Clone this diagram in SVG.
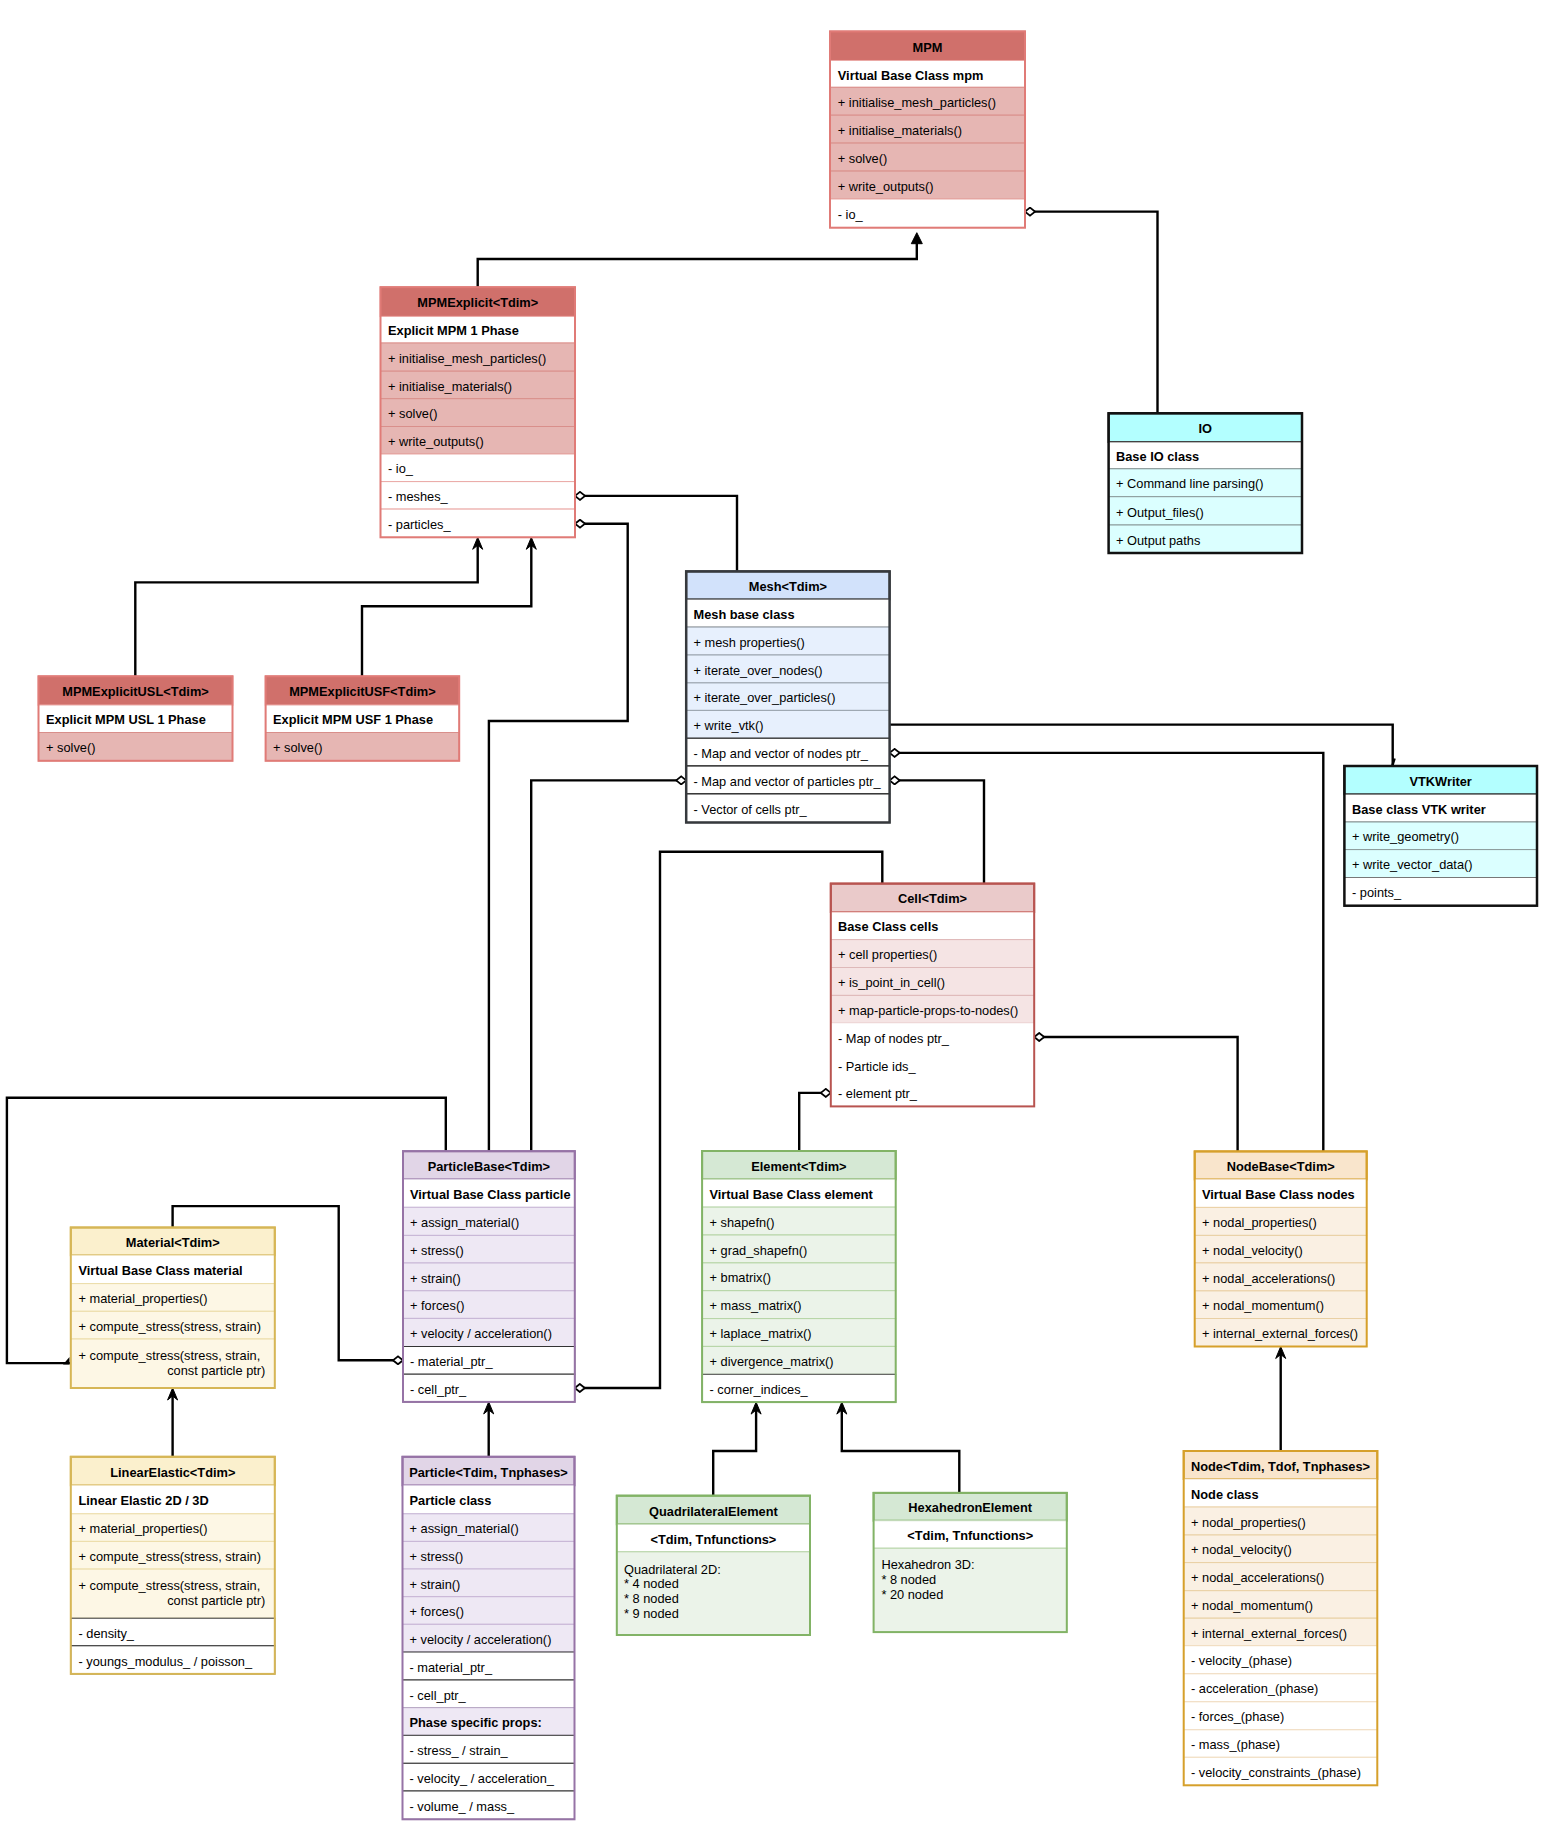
<svg xmlns="http://www.w3.org/2000/svg" width="1566" height="1832" viewBox="0 0 1566 1832">
<style>
.t{font-family:"Liberation Sans",Arial,Helvetica,sans-serif;font-size:12.8px;fill:#000;transform:translate(0px,1.2px)}
.b{font-weight:bold}
.m{text-anchor:middle}
.ln{fill:none;stroke:#000;stroke-width:2.4}
.rh{fill:#d0706b;stroke:#d9716c;stroke-width:1.5}
.rr{fill:#e6b6b3;stroke:#d98f8b;stroke-width:1}
.rw{fill:#fff;stroke:#eaa9a6;stroke-width:1}
.ro{fill:none;stroke:#e07b77;stroke-width:2}
.ch{fill:#b3ffff;stroke:#111;stroke-width:2}
.cr{fill:#dbffff;stroke:#8a9a9a;stroke-width:1}
.cw{fill:#fff;stroke:#777;stroke-width:1}
.co{fill:none;stroke:#111;stroke-width:2.5}
.bh{fill:#d2e2fb;stroke:#36393d;stroke-width:2}
.br{fill:#e7f0fd;stroke:#9aa3ad;stroke-width:1}
.bw{fill:#fff;stroke:#222;stroke-width:1.2}
.bo{fill:none;stroke:#36393d;stroke-width:2.5}
.ph{fill:#eacaca;stroke:#b85450;stroke-width:2}
.pr{fill:#f5e4e4;stroke:#deb9b9;stroke-width:1}
.pw{fill:#fff;stroke:none}
.po{fill:none;stroke:#b85450;stroke-width:2}
.uh{fill:#e1d5e7;stroke:#9673a6;stroke-width:2}
.ur{fill:#eee8f4;stroke:#c7b5d5;stroke-width:1}
.uw{fill:#fff;stroke:#333;stroke-width:1}
.uo{fill:none;stroke:#9673a6;stroke-width:2}
.gh{fill:#d5e8d4;stroke:#82b366;stroke-width:2}
.gr{fill:#ebf3e9;stroke:#b5d4a5;stroke-width:1}
.gw{fill:#fff;stroke:#444;stroke-width:1}
.go{fill:none;stroke:#82b366;stroke-width:2}
.yh{fill:#fbf0cd;stroke:#d6b656;stroke-width:2}
.yr{fill:#fdf7e5;stroke:#ecdca8;stroke-width:1}
.yw{fill:#fff;stroke:#333;stroke-width:1}
.yo{fill:none;stroke:#d6b656;stroke-width:2}
.oh{fill:#f9e5cc;stroke:#d6a02b;stroke-width:2}
.or{fill:#faf0e3;stroke:#e9d0a4;stroke-width:1}
.ow{fill:#fff;stroke:#f0dcc0;stroke-width:1}
.oo{fill:none;stroke:#d6a02b;stroke-width:2}
</style>
<defs>
<marker id="dia" viewBox="0 0 12 10" refX="1" refY="5" markerWidth="12" markerHeight="10" markerUnits="userSpaceOnUse" orient="auto"><path d="M1,5 L6,1 L11,5 L6,9 Z" fill="#fff" stroke="#000" stroke-width="1.8"/></marker>
<marker id="arr" viewBox="0 0 14 12" refX="9" refY="6" markerWidth="14" markerHeight="12" markerUnits="userSpaceOnUse" orient="auto"><path d="M1,1 L13,6 L1,11 L5,6 Z" fill="#000" stroke="#000" stroke-width="1"/></marker>
<marker id="blk" viewBox="0 0 13 13" refX="8" refY="6.5" markerWidth="13" markerHeight="13" markerUnits="userSpaceOnUse" orient="auto"><path d="M1,1 L12,6.5 L1,12 Z" fill="#000" stroke="#000" stroke-width="1"/></marker>
</defs>
<rect x="0" y="0" width="1566" height="1832" fill="#fff"/>

<g id="connectors">
<path class="ln" d="M477.7,287.2 V259 H916.8 V236.7" marker-end="url(#blk)"/>
<path class="ln" d="M1025,211.6 H1157.5 V413.3" marker-start="url(#dia)"/>
<path class="ln" d="M135.3,676.3 V582.4 H477.7 V541.3" marker-end="url(#arr)"/>
<path class="ln" d="M362,676.3 V606.3 H531.3 V541.3" marker-end="url(#arr)"/>
<path class="ln" d="M575,495.9 H737 V571.4" marker-start="url(#dia)"/>
<path class="ln" d="M575,523.7 H627.7 V721 H488.9 V1151.2" marker-start="url(#dia)"/>
<path class="ln" d="M686.2,780.4 H531.2 V1151.2" marker-start="url(#dia)"/>
<path class="ln" d="M889.6,724.6 H1392.7 V766"/>
<path class="ln" d="M1394.6,758.5 L1392.4,765.5" stroke-width="2"/>
<path class="ln" d="M889.6,752.9 H1323.3 V1151.4" marker-start="url(#dia)"/>
<path class="ln" d="M889.6,780.4 H984 V883.6" marker-start="url(#dia)"/>
<path class="ln" d="M574.8,1388 H660 V851.8 H882.3 V883.6" marker-start="url(#dia)"/>
<path class="ln" d="M1034.2,1037 H1237.6 V1151.4" marker-start="url(#dia)"/>
<path class="ln" d="M830.8,1092.9 H799.2 V1151" marker-start="url(#dia)"/>
<path class="ln" d="M403,1360.3 H338.7 V1206.1 H172.6 V1227.5" marker-start="url(#dia)"/>
<path class="ln" d="M445.8,1151.2 V1097.8 H6.9 V1363.1 H70.8"/>
<polygon points="63,1364.5 69.5,1364.5 69.5,1357" fill="#000"/>
<path class="ln" d="M172.6,1456.8 V1392" marker-end="url(#arr)"/>
<path class="ln" d="M488.7,1456.8 V1405.9" marker-end="url(#arr)"/>
<path class="ln" d="M713.2,1495.7 V1451 H756.1 V1406.1" marker-end="url(#arr)"/>
<path class="ln" d="M959.3,1492.9 V1451 H841.8 V1406.1" marker-end="url(#arr)"/>
<path class="ln" d="M1280.7,1451 V1350.5" marker-end="url(#arr)"/>
</g>

<g id="mpm">
<rect class="rh" x="830" y="31.4" width="195" height="29.1"/>
<rect class="rw" x="830" y="60.5" width="195" height="26.8"/>
<rect class="rr" x="830" y="87.3" width="195" height="27.9"/>
<rect class="rr" x="830" y="115.2" width="195" height="27.9"/>
<rect class="rr" x="830" y="143.1" width="195" height="28"/>
<rect class="rr" x="830" y="171.1" width="195" height="27.9"/>
<rect class="rw" x="830" y="199" width="195" height="28.7"/>
<rect class="ro" x="830" y="31.4" width="195" height="196.3"/>
<text class="t b m" x="927.5" y="50.5">MPM</text>
<text class="t b" x="837.8" y="78.4">Virtual Base Class mpm</text>
<text class="t" x="837.8" y="105.8">+ initialise_mesh_particles()</text>
<text class="t" x="837.8" y="133.7">+ initialise_materials()</text>
<text class="t" x="837.8" y="161.6">+ solve()</text>
<text class="t" x="837.8" y="189.6">+ write_outputs()</text>
<text class="t" x="837.8" y="217.9">- io_</text>
</g>

<g id="io">
<rect class="ch" x="1108.6" y="413.3" width="193.4" height="28.7"/>
<rect class="cw" x="1108.6" y="442" width="193.4" height="26.8"/>
<rect class="cr" x="1108.6" y="468.8" width="193.4" height="27.9"/>
<rect class="cr" x="1108.6" y="496.7" width="193.4" height="28.3"/>
<rect class="cr" x="1108.6" y="525" width="193.4" height="28"/>
<rect class="co" x="1108.6" y="413.3" width="193.4" height="139.7"/>
<text class="t b m" x="1205.3" y="432.2">IO</text>
<text class="t b" x="1116" y="459.9">Base IO class</text>
<text class="t" x="1116" y="487.3">+ Command line parsing()</text>
<text class="t" x="1116" y="515.4">+ Output_files()</text>
<text class="t" x="1116" y="543.5">+ Output paths</text>
</g>

<g id="mpmexplicit">
<rect class="rh" x="380.5" y="287.2" width="194.5" height="29.2"/>
<rect class="rw" x="380.5" y="316.4" width="194.5" height="26.6"/>
<rect class="rr" x="380.5" y="343" width="194.5" height="28.2"/>
<rect class="rr" x="380.5" y="371.2" width="194.5" height="27.5"/>
<rect class="rr" x="380.5" y="398.7" width="194.5" height="27.8"/>
<rect class="rr" x="380.5" y="426.5" width="194.5" height="27.5"/>
<rect class="rw" x="380.5" y="454" width="194.5" height="27.6"/>
<rect class="rw" x="380.5" y="481.6" width="194.5" height="27.5"/>
<rect class="rw" x="380.5" y="509.1" width="194.5" height="28.2"/>
<rect class="ro" x="380.5" y="287.2" width="194.5" height="250.1"/>
<text class="t b m" x="477.75" y="306.3">MPMExplicit&lt;Tdim&gt;</text>
<text class="t b" x="388" y="334.2">Explicit MPM 1 Phase</text>
<text class="t" x="388" y="361.6">+ initialise_mesh_particles()</text>
<text class="t" x="388" y="389.5">+ initialise_materials()</text>
<text class="t" x="388" y="417.1">+ solve()</text>
<text class="t" x="388" y="444.8">+ write_outputs()</text>
<text class="t" x="388" y="472.3">- io_</text>
<text class="t" x="388" y="499.9">- meshes_</text>
<text class="t" x="388" y="527.7">- particles_</text>
</g>

<g id="mpmexplicitusl">
<rect class="rh" x="38.5" y="676.3" width="194" height="28.7"/>
<rect class="rw" x="38.5" y="705" width="194" height="27.5"/>
<rect class="rr" x="38.5" y="732.5" width="194" height="28.3"/>
<rect class="ro" x="38.5" y="676.3" width="194" height="84.5"/>
<text class="t b m" x="135.5" y="695.2">MPMExplicitUSL&lt;Tdim&gt;</text>
<text class="t b" x="46" y="723.3">Explicit MPM USL 1 Phase</text>
<text class="t" x="46" y="751.2">+ solve()</text>
</g>

<g id="mpmexplicitusf">
<rect class="rh" x="265.6" y="676.3" width="193.6" height="28.7"/>
<rect class="rw" x="265.6" y="705" width="193.6" height="27.5"/>
<rect class="rr" x="265.6" y="732.5" width="193.6" height="28.3"/>
<rect class="ro" x="265.6" y="676.3" width="193.6" height="84.5"/>
<text class="t b m" x="362.4" y="695.2">MPMExplicitUSF&lt;Tdim&gt;</text>
<text class="t b" x="273" y="723.3">Explicit MPM USF 1 Phase</text>
<text class="t" x="273" y="751.2">+ solve()</text>
</g>

<g id="mesh">
<rect class="bh" x="686.2" y="571.4" width="203.4" height="27.9"/>
<rect class="cw" x="686.2" y="599.3" width="203.4" height="27.8"/>
<rect class="br" x="686.2" y="627.1" width="203.4" height="27.9"/>
<rect class="br" x="686.2" y="655" width="203.4" height="27.9"/>
<rect class="br" x="686.2" y="682.9" width="203.4" height="27.5"/>
<rect class="br" x="686.2" y="710.4" width="203.4" height="27.8"/>
<rect class="bw" x="686.2" y="738.2" width="203.4" height="27.8"/>
<rect class="bw" x="686.2" y="766" width="203.4" height="27.9"/>
<rect class="bw" x="686.2" y="793.9" width="203.4" height="28.6"/>
<rect class="bo" x="686.2" y="571.4" width="203.4" height="251.1"/>
<text class="t b m" x="787.9" y="589.9">Mesh&lt;Tdim&gt;</text>
<text class="t b" x="693.5" y="617.7">Mesh base class</text>
<text class="t" x="693.5" y="645.6">+ mesh properties()</text>
<text class="t" x="693.5" y="673.5">+ iterate_over_nodes()</text>
<text class="t" x="693.5" y="701.2">+ iterate_over_particles()</text>
<text class="t" x="693.5" y="728.8">+ write_vtk()</text>
<text class="t" x="693.5" y="756.6">- Map and vector of nodes ptr_</text>
<text class="t" x="693.5" y="784.5">- Map and vector of particles ptr_</text>
<text class="t" x="693.5" y="812.7">- Vector of cells ptr_</text>
</g>

<g id="vtkwriter">
<rect class="ch" x="1344.4" y="766" width="192.6" height="28.3"/>
<rect class="cw" x="1344.4" y="794.3" width="192.6" height="27.7"/>
<rect class="cr" x="1344.4" y="822" width="192.6" height="27.6"/>
<rect class="cr" x="1344.4" y="849.6" width="192.6" height="27.9"/>
<rect class="cw" x="1344.4" y="877.5" width="192.6" height="28.2"/>
<rect class="co" x="1344.4" y="766" width="192.6" height="139.7"/>
<text class="t b m" x="1440.7" y="784.7">VTKWriter</text>
<text class="t b" x="1352" y="812.7">Base class VTK writer</text>
<text class="t" x="1352" y="840.3">+ write_geometry()</text>
<text class="t" x="1352" y="868.1">+ write_vector_data()</text>
<text class="t" x="1352" y="896.1">- points_</text>
</g>

<g id="cell">
<rect class="ph" x="830.8" y="883.6" width="203.4" height="28.4"/>
<rect class="rw" x="830.8" y="912" width="203.4" height="27.6"/>
<rect class="pr" x="830.8" y="939.6" width="203.4" height="27.9"/>
<rect class="pr" x="830.8" y="967.5" width="203.4" height="27.9"/>
<rect class="pr" x="830.8" y="995.4" width="203.4" height="27.8"/>
<rect class="pw" x="830.8" y="1023.2" width="203.4" height="83.2"/>
<rect class="po" x="830.8" y="883.6" width="203.4" height="222.8"/>
<text class="t b m" x="932.5" y="902.3">Cell&lt;Tdim&gt;</text>
<text class="t b" x="838" y="930.3">Base Class cells</text>
<text class="t" x="838" y="958.1">+ cell properties()</text>
<text class="t" x="838" y="986">+ is_point_in_cell()</text>
<text class="t" x="838" y="1013.8">+ map-particle-props-to-nodes()</text>
<text class="t" x="838" y="1041.6">- Map of nodes ptr_</text>
<text class="t" x="838" y="1069.5">- Particle ids_</text>
<text class="t" x="838" y="1097.2">- element ptr_</text>
</g>

<g id="particlebase">
<rect class="uh" x="403" y="1151.2" width="171.8" height="28"/>
<rect class="uw" x="403" y="1179.2" width="171.8" height="28.1" style="stroke:#d8cce0"/>
<rect class="ur" x="403" y="1207.3" width="171.8" height="28.1"/>
<rect class="ur" x="403" y="1235.4" width="171.8" height="27.6"/>
<rect class="ur" x="403" y="1263" width="171.8" height="27.8"/>
<rect class="ur" x="403" y="1290.8" width="171.8" height="27.6"/>
<rect class="ur" x="403" y="1318.4" width="171.8" height="28.1"/>
<rect class="uw" x="403" y="1346.5" width="171.8" height="27.7"/>
<rect class="uw" x="403" y="1374.2" width="171.8" height="27.7"/>
<rect class="uo" x="403" y="1151.2" width="171.8" height="250.7"/>
<text class="t b m" x="488.9" y="1169.7">ParticleBase&lt;Tdim&gt;</text>
<text class="t b" x="410" y="1197.8">Virtual Base Class particle</text>
<text class="t" x="410" y="1225.9">+ assign_material()</text>
<text class="t" x="410" y="1253.7">+ stress()</text>
<text class="t" x="410" y="1281.4">+ strain()</text>
<text class="t" x="410" y="1309.1">+ forces()</text>
<text class="t" x="410" y="1337">+ velocity / acceleration()</text>
<text class="t" x="410" y="1364.9">- material_ptr_</text>
<text class="t" x="410" y="1392.6">- cell_ptr_</text>
</g>

<g id="particle">
<rect class="uh" x="402.5" y="1456.8" width="172" height="28.5"/>
<rect class="uw" x="402.5" y="1485.3" width="172" height="28.5" style="stroke:#d8cce0"/>
<rect class="ur" x="402.5" y="1513.8" width="172" height="27.6"/>
<rect class="ur" x="402.5" y="1541.4" width="172" height="27.6"/>
<rect class="ur" x="402.5" y="1569" width="172" height="27.7"/>
<rect class="ur" x="402.5" y="1596.7" width="172" height="27.6"/>
<rect class="ur" x="402.5" y="1624.3" width="172" height="27.7"/>
<rect class="uw" x="402.5" y="1652" width="172" height="28"/>
<rect class="uw" x="402.5" y="1680" width="172" height="27.7"/>
<rect class="ur" x="402.5" y="1707.7" width="172" height="27.6"/>
<rect class="uw" x="402.5" y="1735.3" width="172" height="28"/>
<rect class="uw" x="402.5" y="1763.3" width="172" height="27.7"/>
<rect class="uw" x="402.5" y="1791" width="172" height="28.3"/>
<rect class="uo" x="402.5" y="1456.8" width="172" height="362.5"/>
<text class="t b m" x="488.5" y="1475.6">Particle&lt;Tdim, Tnphases&gt;</text>
<text class="t b" x="409.5" y="1504.1">Particle class</text>
<text class="t" x="409.5" y="1532.1">+ assign_material()</text>
<text class="t" x="409.5" y="1559.7">+ stress()</text>
<text class="t" x="409.5" y="1587.4">+ strain()</text>
<text class="t" x="409.5" y="1615">+ forces()</text>
<text class="t" x="409.5" y="1642.7">+ velocity / acceleration()</text>
<text class="t" x="409.5" y="1670.5">- material_ptr_</text>
<text class="t" x="409.5" y="1698.4">- cell_ptr_</text>
<text class="t b" x="409.5" y="1726">Phase specific props:</text>
<text class="t" x="409.5" y="1753.8">- stress_ / strain_</text>
<text class="t" x="409.5" y="1781.7">- velocity_ / acceleration_</text>
<text class="t" x="409.5" y="1809.7">- volume_ / mass_</text>
</g>

<g id="element">
<rect class="gh" x="702.1" y="1151" width="193.6" height="28.3"/>
<rect class="uw" x="702.1" y="1179.3" width="193.6" height="27.8" style="stroke:#c8dcc0"/>
<rect class="gr" x="702.1" y="1207.1" width="193.6" height="27.9"/>
<rect class="gr" x="702.1" y="1235" width="193.6" height="27.9"/>
<rect class="gr" x="702.1" y="1262.9" width="193.6" height="27.8"/>
<rect class="gr" x="702.1" y="1290.7" width="193.6" height="27.9"/>
<rect class="gr" x="702.1" y="1318.6" width="193.6" height="27.8"/>
<rect class="gr" x="702.1" y="1346.4" width="193.6" height="27.9"/>
<rect class="gw" x="702.1" y="1374.3" width="193.6" height="27.8"/>
<rect class="go" x="702.1" y="1151" width="193.6" height="251.1"/>
<text class="t b m" x="798.9" y="1169.7">Element&lt;Tdim&gt;</text>
<text class="t b" x="709.5" y="1197.7">Virtual Base Class element</text>
<text class="t" x="709.5" y="1225.6">+ shapefn()</text>
<text class="t" x="709.5" y="1253.5">+ grad_shapefn()</text>
<text class="t" x="709.5" y="1281.3">+ bmatrix()</text>
<text class="t" x="709.5" y="1309.2">+ mass_matrix()</text>
<text class="t" x="709.5" y="1337">+ laplace_matrix()</text>
<text class="t" x="709.5" y="1364.9">+ divergence_matrix()</text>
<text class="t" x="709.5" y="1392.7">- corner_indices_</text>
</g>

<g id="quadrilateralelement">
<rect class="gh" x="616.8" y="1495.7" width="193.2" height="28.6"/>
<rect class="uw" x="616.8" y="1524.3" width="193.2" height="27.5" style="stroke:#c8dcc0"/>
<rect class="gr" x="616.8" y="1551.8" width="193.2" height="83.2"/>
<rect class="go" x="616.8" y="1495.7" width="193.2" height="139.3"/>
<text class="t b m" x="713.4" y="1514.5">QuadrilateralElement</text>
<text class="t b m" x="713.4" y="1542.6">&lt;Tdim, Tnfunctions&gt;</text>
<text class="t" x="624" y="1572.4">Quadrilateral 2D:</text>
<text class="t" x="624" y="1587">* 4 noded</text>
<text class="t" x="624" y="1602">* 8 noded</text>
<text class="t" x="624" y="1617">* 9 noded</text>
</g>

<g id="hexahedronelement">
<rect class="gh" x="873.6" y="1492.9" width="193.2" height="27.8"/>
<rect class="uw" x="873.6" y="1520.7" width="193.2" height="27.5" style="stroke:#c8dcc0"/>
<rect class="gr" x="873.6" y="1548.2" width="193.2" height="83.9"/>
<rect class="go" x="873.6" y="1492.9" width="193.2" height="139.2"/>
<text class="t b m" x="970.2" y="1511.3">HexahedronElement</text>
<text class="t b m" x="970.2" y="1539">&lt;Tdim, Tnfunctions&gt;</text>
<text class="t" x="881.4" y="1568.1">Hexahedron 3D:</text>
<text class="t" x="881.4" y="1583.1">* 8 noded</text>
<text class="t" x="881.4" y="1598.1">* 20 noded</text>
</g>

<g id="material">
<rect class="yh" x="70.8" y="1227.5" width="204" height="27.7"/>
<rect class="uw" x="70.8" y="1255.2" width="204" height="28.4" style="stroke:#efe3bd"/>
<rect class="yr" x="70.8" y="1283.6" width="204" height="27.7"/>
<rect class="yr" x="70.8" y="1311.3" width="204" height="27.7"/>
<rect class="yr" x="70.8" y="1339" width="204" height="49"/>
<rect class="yo" x="70.8" y="1227.5" width="204" height="160.5"/>
<text class="t b m" x="172.8" y="1245.9">Material&lt;Tdim&gt;</text>
<text class="t b" x="78.5" y="1273.9">Virtual Base Class material</text>
<text class="t" x="78.5" y="1302">+ material_properties()</text>
<text class="t" x="78.5" y="1329.7">+ compute_stress(stress, strain)</text>
<text class="t" x="78.5" y="1358.9">+ compute_stress(stress, strain,</text>
<text class="t" x="167.2" y="1374.3">const particle ptr)</text>
</g>

<g id="linearelastic">
<rect class="yh" x="70.8" y="1456.8" width="204" height="28.5"/>
<rect class="uw" x="70.8" y="1485.3" width="204" height="28.5" style="stroke:#efe3bd"/>
<rect class="yr" x="70.8" y="1513.8" width="204" height="27.6"/>
<rect class="yr" x="70.8" y="1541.4" width="204" height="27.7"/>
<rect class="yr" x="70.8" y="1569.1" width="204" height="49.1"/>
<rect class="yw" x="70.8" y="1618.2" width="204" height="27.6"/>
<rect class="yw" x="70.8" y="1645.8" width="204" height="28.1"/>
<rect class="yo" x="70.8" y="1456.8" width="204" height="217.1"/>
<text class="t b m" x="172.8" y="1475.6">LinearElastic&lt;Tdim&gt;</text>
<text class="t b" x="78.5" y="1504.1">Linear Elastic 2D / 3D</text>
<text class="t" x="78.5" y="1532.1">+ material_properties()</text>
<text class="t" x="78.5" y="1559.8">+ compute_stress(stress, strain)</text>
<text class="t" x="78.5" y="1589">+ compute_stress(stress, strain,</text>
<text class="t" x="167.2" y="1604.1">const particle ptr)</text>
<text class="t" x="78.5" y="1636.5">- density_</text>
<text class="t" x="78.5" y="1664.4">- youngs_modulus_ / poisson_</text>
</g>

<g id="nodebase">
<rect class="oh" x="1194.7" y="1151.4" width="172" height="28"/>
<rect class="ow" x="1194.7" y="1179.4" width="172" height="28"/>
<rect class="or" x="1194.7" y="1207.4" width="172" height="28"/>
<rect class="or" x="1194.7" y="1235.4" width="172" height="27.5"/>
<rect class="or" x="1194.7" y="1262.9" width="172" height="28"/>
<rect class="or" x="1194.7" y="1290.9" width="172" height="27.6"/>
<rect class="or" x="1194.7" y="1318.5" width="172" height="28"/>
<rect class="oo" x="1194.7" y="1151.4" width="172" height="195.1"/>
<text class="t b m" x="1280.7" y="1169.9">NodeBase&lt;Tdim&gt;</text>
<text class="t b" x="1202" y="1197.9">Virtual Base Class nodes</text>
<text class="t" x="1202" y="1225.9">+ nodal_properties()</text>
<text class="t" x="1202" y="1253.7">+ nodal_velocity()</text>
<text class="t" x="1202" y="1281.4">+ nodal_accelerations()</text>
<text class="t" x="1202" y="1309.2">+ nodal_momentum()</text>
<text class="t" x="1202" y="1337">+ internal_external_forces()</text>
</g>

<g id="node">
<rect class="oh" x="1183.7" y="1451" width="193.6" height="28"/>
<rect class="ow" x="1183.7" y="1479" width="193.6" height="28"/>
<rect class="or" x="1183.7" y="1507" width="193.6" height="28"/>
<rect class="or" x="1183.7" y="1535" width="193.6" height="27.6"/>
<rect class="or" x="1183.7" y="1562.6" width="193.6" height="28.1"/>
<rect class="or" x="1183.7" y="1590.7" width="193.6" height="27.5"/>
<rect class="or" x="1183.7" y="1618.2" width="193.6" height="27.5"/>
<rect class="ow" x="1183.7" y="1645.7" width="193.6" height="28.1"/>
<rect class="ow" x="1183.7" y="1673.8" width="193.6" height="28"/>
<rect class="ow" x="1183.7" y="1701.8" width="193.6" height="28"/>
<rect class="ow" x="1183.7" y="1729.8" width="193.6" height="27.5"/>
<rect class="ow" x="1183.7" y="1757.3" width="193.6" height="28"/>
<rect class="oo" x="1183.7" y="1451" width="193.6" height="334.3"/>
<text class="t b m" x="1280.5" y="1469.5">Node&lt;Tdim, Tdof, Tnphases&gt;</text>
<text class="t b" x="1191" y="1497.5">Node class</text>
<text class="t" x="1191" y="1525.5">+ nodal_properties()</text>
<text class="t" x="1191" y="1553.3">+ nodal_velocity()</text>
<text class="t" x="1191" y="1581.2">+ nodal_accelerations()</text>
<text class="t" x="1191" y="1608.9">+ nodal_momentum()</text>
<text class="t" x="1191" y="1636.5">+ internal_external_forces()</text>
<text class="t" x="1191" y="1664.3">- velocity_(phase)</text>
<text class="t" x="1191" y="1692.3">- acceleration_(phase)</text>
<text class="t" x="1191" y="1720.3">- forces_(phase)</text>
<text class="t" x="1191" y="1748.1">- mass_(phase)</text>
<text class="t" x="1191" y="1775.8">- velocity_constraints_(phase)</text>
</g>
</svg>
